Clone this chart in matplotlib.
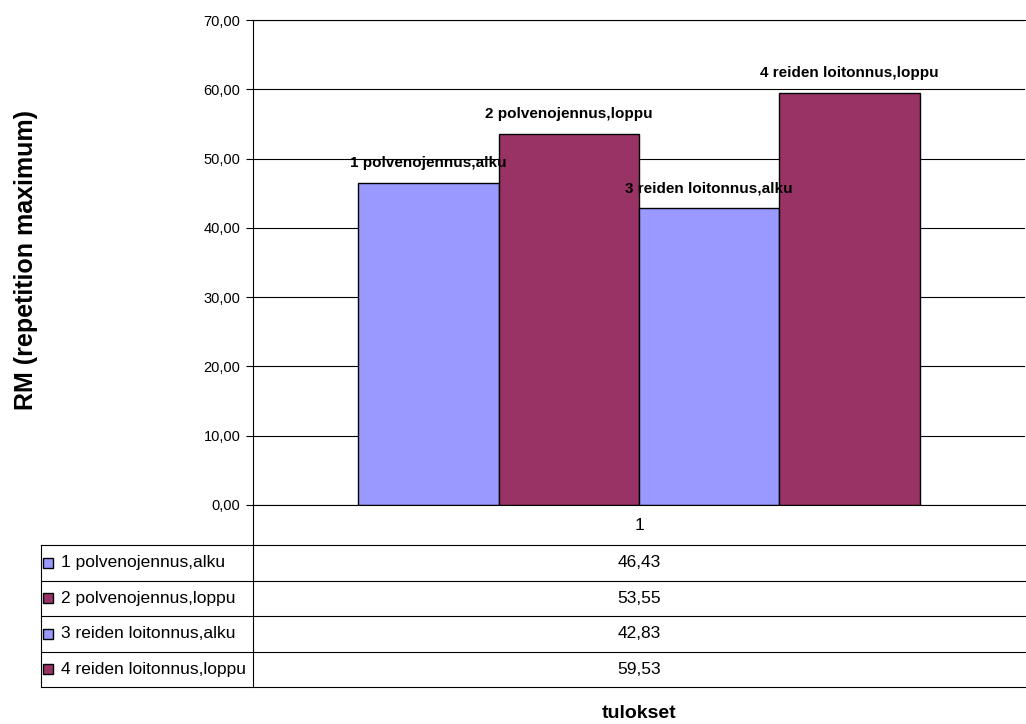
import matplotlib.pyplot as plt
from matplotlib import font_manager
from matplotlib.lines import Line2D
from matplotlib.patches import Rectangle
from matplotlib.transforms import blended_transform_factory

# data
series = ["1 polvenojennus,alku", "2 polvenojennus,loppu",
          "3 reiden loitonnus,alku", "4 reiden loitonnus,loppu"]
values = [46.43, 53.55, 42.83, 59.53]
colors = ["#9999FF", "#993366", "#9999FF", "#993366"]
category = "1"
yticks = [0, 10, 20, 30, 40, 50, 60, 70]
ylabel = "RM (repetition maximum)"
xlabel = "tulokset"

W, H = 1026, 724

def fx(px):
    return px / W

def fy(py):
    return 1 - py / H

def comma(v, nd=2):
    return f"{v:.{nd}f}".replace(".", ",")

names = {f.name for f in font_manager.fontManager.ttflist}
if "Liberation Sans Narrow" in names:
    narrow = "Liberation Sans Narrow"
    fs_table, fs_lab, fs_x = 15, 13.5, 17
else:
    narrow = "Liberation Sans"
    fs_table, fs_lab, fs_x = 12.5, 11, 14

plt.rcParams["font.family"] = ["Liberation Sans", "DejaVu Sans"]

fig = plt.figure(figsize=(W / 100, H / 100), dpi=100)
ax = fig.add_axes([fx(253), fy(505), fx(1025) - fx(253), fy(20) - fy(505)])

# clustered bars, gap width 150%
w = 1 / (len(values) + 1.5)
start = 0.5 + 0.75 * w
xs = [start + w * (i + 0.5) for i in range(len(values))]
ax.bar(xs, values, width=w, color=colors, edgecolor="black", linewidth=1, zorder=2)

for x, v, name in zip(xs, values, series):
    ax.annotate(name, (x, v), xytext=(0, 11.5), textcoords="offset points",
                ha="center", va="baseline", fontweight="bold",
                fontsize=fs_lab, family=[narrow, "DejaVu Sans"], zorder=4)

ax.set_xlim(0.5, 1.5)
ax.set_ylim(0, 70)
ax.set_yticks(yticks)
ax.set_yticklabels([comma(t) for t in yticks], fontsize=10.5)
ax.tick_params(axis="y", length=5, width=0.8, pad=4, direction="out")
ax.tick_params(axis="x", length=0, labelbottom=False)
ax.yaxis.grid(True, color="black", linewidth=0.8)
ax.set_axisbelow(True)
ax.spines["right"].set_visible(False)
for s in ("left", "bottom", "top"):
    ax.spines[s].set_linewidth(0.8)

# data table below the plot
row_edges = [505, 545, 580.5, 616, 651.5, 687]
lw = 0.8
fig.add_artist(Line2D([fx(253), fx(253)], [fy(505), fy(687)], color="black", lw=lw))
fig.add_artist(Line2D([fx(40.5), fx(40.5)], [fy(545), fy(687)], color="black", lw=lw))
for y in row_edges[1:]:
    fig.add_artist(Line2D([fx(40.5), 1], [fy(y), fy(y)], color="black", lw=lw))

xcat = blended_transform_factory(ax.transData, fig.transFigure)
fig.text(1, fy((row_edges[0] + row_edges[1]) / 2), category, transform=xcat,
         ha="center", va="center", fontsize=fs_table, family=[narrow, "DejaVu Sans"])

for i, (name, v, c) in enumerate(zip(series, values, colors)):
    yc = (row_edges[i + 1] + row_edges[i + 2]) / 2
    fig.add_artist(Rectangle((fx(43), fy(yc + 5)), fx(10), fy(yc - 5) - fy(yc + 5),
                             facecolor=c, edgecolor="black", lw=1,
                             transform=fig.transFigure))
    fig.text(fx(61), fy(yc), name, ha="left", va="center",
             fontsize=fs_table, family=[narrow, "DejaVu Sans"])
    fig.text(1, fy(yc), comma(v), transform=xcat, ha="center", va="center",
             fontsize=fs_table, family=[narrow, "DejaVu Sans"])

fig.text(1, fy(718), xlabel, transform=xcat, ha="center", va="baseline",
         fontsize=fs_x, fontweight="bold", family=[narrow, "DejaVu Sans"])
fig.text(fx(26), fy(260), ylabel, rotation=90, ha="center", va="center",
         fontsize=18, fontweight="bold")

fig.savefig("out.png", dpi=100)
